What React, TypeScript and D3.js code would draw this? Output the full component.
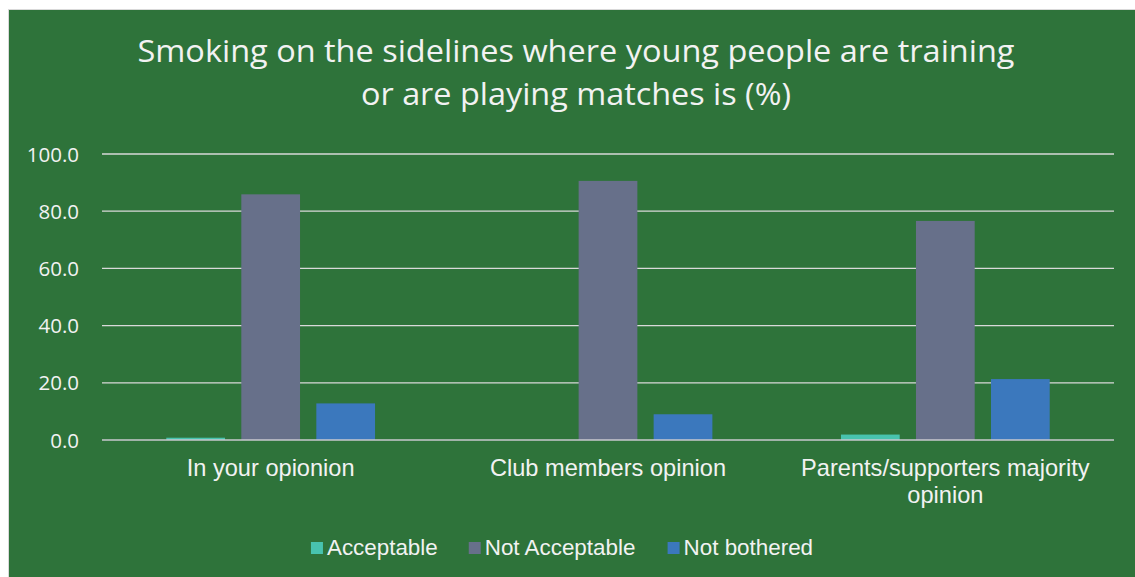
import React from "react";
import * as d3 from "d3";

const categories = ["In your opionion", "Club members opinion", "Parents/supporters majority opinion"];
const seriesNames = ["Acceptable", "Not Acceptable", "Not bothered"];
const acceptable = [0.8, 0, 1.9];
const notAcceptable = [85.9, 90.6, 76.6];
const notBothered = [12.8, 9.0, 21.3];
const yTicks = [0, 20, 40, 60, 80, 100];
const titleLines = [
  "Smoking on the sidelines where young people are training",
  "or are playing matches is (%)",
];

const seriesValues = [acceptable, notAcceptable, notBothered];
const colors = ["#48c3ae", "#67708a", "#3b78bd"];
const BG = "#2e733a";
const TEXT = "#f2f2f2";

const W = 1135;
const H = 577;
const left = 102;
const right = 1114;
const yTop = 154;
const yBottom = 440;

let _ctx: CanvasRenderingContext2D | null = null;
function measure(text: string, font: string): number {
  if (!_ctx) {
    const c = document.createElement("canvas");
    _ctx = c.getContext("2d");
  }
  if (!_ctx) return text.length * 10;
  _ctx.font = font;
  return _ctx.measureText(text).width;
}

function wrap(text: string, font: string, maxW: number): string[] {
  const words = text.split(" ");
  const lines: string[] = [];
  let cur = "";
  for (const w of words) {
    const t = cur ? cur + " " + w : w;
    if (measure(t, font) > maxW && cur) {
      lines.push(cur);
      cur = w;
    } else cur = t;
  }
  if (cur) lines.push(cur);
  return lines;
}

export default function App() {
  const x = d3.scaleBand<string>().domain(categories).range([left, right]).padding(0);
  const inner = d3
    .scaleBand<string>()
    .domain(seriesNames)
    .range([0, x.bandwidth()])
    .paddingInner(0.217)
    .paddingOuter(0.857);
  const y = d3.scaleLinear().domain([0, 100]).range([yBottom, yTop]);

  const catSize = 23.6;
  const legSize = 22.4;
  const catFont = `${catSize}px 'Liberation Sans', Arial, sans-serif`;
  const legendFont = `${legSize}px 'Liberation Sans', Arial, sans-serif`;

  // legend layout
  const sq = 12;
  const gapTxt = 4;
  const gapItem = 31;
  const widths = seriesNames.map((s) => measure(s, legendFont));
  const total = widths.reduce((a, b) => a + b, 0) + seriesNames.length * (sq + gapTxt) + (seriesNames.length - 1) * gapItem;
  let lx = 562 - total / 2;
  const legendItems = seriesNames.map((s, i) => {
    const item = { name: s, x: lx, color: colors[i] };
    lx += sq + gapTxt + widths[i] + gapItem;
    return item;
  });

  return (
    <svg
      width={W}
      height={H}
      style={{ position: "absolute", left: 0, top: 0, display: "block" }}
    >
      <rect x={0} y={0} width={W} height={H} fill="#ffffff" />
      <rect x={8.5} y={9.5} width={W} height={H} fill={BG} stroke="#d9d9d9" strokeWidth={1} />

      {/* title */}
      <g fontFamily="'Open Sans', sans-serif" fontSize={31} fill={TEXT} textAnchor="middle">
        <text x={576} y={62} textLength={877} lengthAdjust="spacingAndGlyphs">{titleLines[0]}</text>
        <text x={576} y={105} textLength={430} lengthAdjust="spacingAndGlyphs">{titleLines[1]}</text>
      </g>

      {/* gridlines */}
      <g>
        {yTicks.filter((t) => t !== 0).map((t) => (
          <line key={t} x1={left} x2={right} y1={y(t)} y2={y(t)} stroke="#d9d9d9" strokeWidth={1.3} />
        ))}
      </g>

      {/* y tick labels */}
      <g fontFamily="'Open Sans', sans-serif" fontSize={20.5} fill={TEXT} textAnchor="end">
        {yTicks.map((t) => (
          <text key={t} x={79} y={y(t) + 7.5}>{t.toFixed(1)}</text>
        ))}
      </g>

      {/* bars */}
      <g>
        {categories.map((c, ci) => (
          <g key={c} transform={`translate(${x(c)},0)`}>
            {seriesNames.map((s, si) => {
              const v = seriesValues[si][ci];
              if (!v) return null;
              return (
                <rect
                  key={s}
                  x={inner(s)}
                  y={y(v)}
                  width={inner.bandwidth()}
                  height={y(0) - y(v)}
                  fill={colors[si]}
                />
              );
            })}
          </g>
        ))}
      </g>

      {/* zero axis */}
      <line x1={left} x2={right} y1={y(0)} y2={y(0)} stroke="#c9c9cf" strokeWidth={1.6} />

      {/* category labels */}
      <g fontFamily="'Liberation Sans', Arial, sans-serif" fontSize={catSize} fill={TEXT} textAnchor="middle">
        {categories.map((c) => {
          const lines = wrap(c, catFont, x.bandwidth() - 20);
          const cx = (x(c) as number) + x.bandwidth() / 2;
          return (
            <text key={c} x={cx} y={476}>
              {lines.map((l, i) => (
                <tspan key={i} x={cx} dy={i === 0 ? 0 : 27}>{l}</tspan>
              ))}
            </text>
          );
        })}
      </g>

      {/* legend */}
      <g fontFamily="'Liberation Sans', Arial, sans-serif" fontSize={legSize} fill={TEXT}>
        {legendItems.map((it) => (
          <g key={it.name}>
            <rect x={it.x} y={542} width={sq} height={sq} fill={it.color} />
            <text x={it.x + sq + gapTxt} y={555}>{it.name}</text>
          </g>
        ))}
      </g>
    </svg>
  );
}
